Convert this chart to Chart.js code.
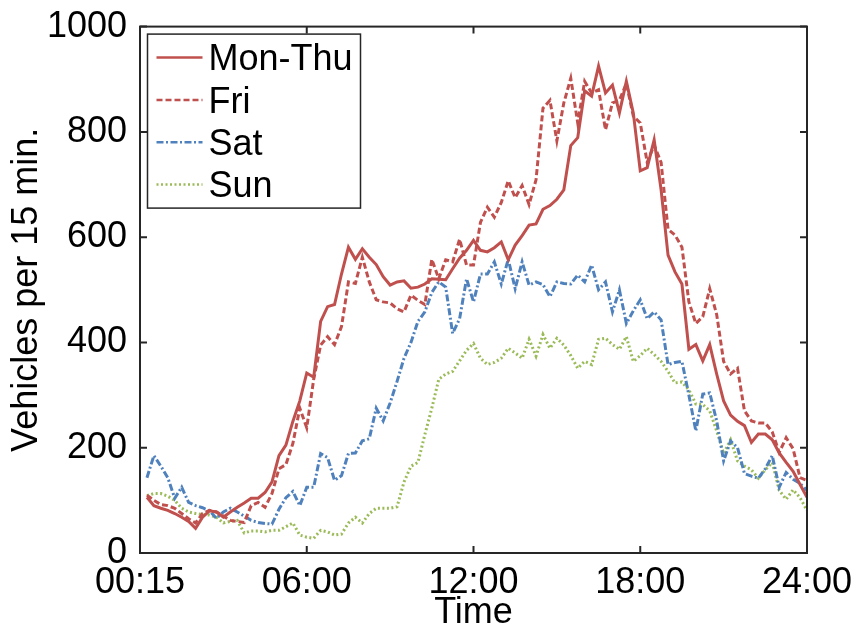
<!DOCTYPE html>
<html>
<head>
<meta charset="utf-8">
<script src="https://cdn.jsdelivr.net/npm/chart.js@4/dist/chart.umd.min.js"></script>
<style>
  html, body { margin: 0; padding: 0; background: #fff; }
  #c { display: block; }
</style>
</head>
<body>
<canvas id="c" width="856" height="632"></canvas>
<script>
// 15-minute slots: 1 = 00:15 ... 96 = 24:00
const slots = Array.from({ length: 96 }, (_, k) => k + 1);

const tickPositions = [0, 24, 48, 72, 96];
const tickLabels = ['00:15', '06:00', '12:00', '18:00', '24:00'];

const seriesNames = ['Mon-Thu', 'Fri', 'Sat', 'Sun'];

const monThu = [106,90,85,81,75,68,60,47,68,80,
  78,68,78,87,95,104,104,115,135,185,
  205,250,289,342,334,440,468,472,530,581,
  558,578,562,548,525,509,515,517,503,505,
  511,521,520,519,540,560,575,594,575,572,
  580,591,557,585,603,623,625,653,660,672,
  690,774,789,878,868,925,874,889,836,896,
  836,726,732,785,690,566,534,511,387,396,
  365,396,340,289,262,250,242,210,226,226,
  215,190,172,155,130,106];

const fri = [110,100,92,90,85,75,65,57,75,81,
  78,70,62,60,58,90,96,87,113,160,
  168,208,275,238,330,395,411,396,430,515,
  512,562,515,481,477,475,464,458,490,480,
  472,558,521,557,553,596,547,547,628,657,
  638,666,707,675,698,662,709,845,860,783,
  855,902,817,896,874,880,804,855,860,892,
  830,817,742,775,742,615,604,581,477,436,
  449,502,453,364,340,351,270,251,247,247,
  230,191,219,198,143,138];

const sat = [143,185,165,143,104,125,96,90,86,80,
  66,78,85,78,70,62,58,56,55,83,
  105,117,90,125,125,189,181,138,147,189,
  190,213,217,275,251,285,326,370,400,440,
  458,495,515,505,417,445,521,477,530,530,
  553,511,558,502,553,509,515,510,487,515,
  512,511,528,515,547,500,515,458,500,436,
  460,481,445,458,443,358,362,364,300,232,
  302,304,251,175,213,200,151,146,142,160,
  185,125,153,140,132,119];

const sun = [109,113,113,108,100,85,78,75,73,72,
  68,57,60,62,38,42,42,40,43,43,
  50,57,34,30,28,43,40,34,36,57,
  68,57,75,85,85,85,88,135,165,172,
  225,275,330,340,345,365,385,398,370,358,
  362,370,389,380,370,406,374,415,389,408,
  395,375,351,364,358,406,408,396,387,411,
  364,375,389,377,364,345,323,325,310,283,
  282,270,232,189,215,175,165,158,142,158,
  172,119,102,120,105,81];

const yTicks = [0, 200, 400, 600, 800, 1000];

const FONT = { family: "'Liberation Sans', Arial, Helvetica, sans-serif", size: 36 };
const AXIS_COLOR = '#262626';

const styles = [
  { color: '#c0504d', dash: [] },
  { color: '#c0504d', dash: [6, 3] },
  { color: '#4f81bd', dash: [7, 2.5, 2, 2.5] },
  { color: '#9bbb59', dash: [2, 2.5] }
];

const values = [monThu, fri, sat, sun];

const datasets = values.map((v, k) => ({
  label: seriesNames[k],
  data: v,
  borderColor: styles[k].color,
  backgroundColor: styles[k].color,
  borderDash: styles[k].dash,
  borderWidth: 3,
  pointRadius: 0,
  tension: 0,
  fill: false
}));

const framePlugin = {
  id: 'frame',
  afterDatasetsDraw(chart) {
    const { ctx, chartArea: a, scales: { x, y } } = chart;
    ctx.save();
    ctx.strokeStyle = AXIS_COLOR;
    ctx.lineWidth = 2;
    ctx.setLineDash([]);
    ctx.strokeRect(a.left, a.top, a.right - a.left, a.bottom - a.top);
    ctx.beginPath();
    const tl = 7;
    x.ticks.forEach(t => {
      const px = x.getPixelForValue(t.value);
      ctx.moveTo(px, a.bottom); ctx.lineTo(px, a.bottom - tl);
      ctx.moveTo(px, a.top); ctx.lineTo(px, a.top + tl);
    });
    y.ticks.forEach(t => {
      const py = y.getPixelForValue(t.value);
      ctx.moveTo(a.left, py); ctx.lineTo(a.left + tl, py);
      ctx.moveTo(a.right, py); ctx.lineTo(a.right - tl, py);
    });
    ctx.stroke();
    ctx.restore();
  },
  afterDraw(chart) {
    const { ctx, chartArea: a } = chart;
    const bx = a.left + 7.5, by = a.top + 7.5, bw = 213, bh = 174;
    ctx.save();
    ctx.fillStyle = '#fff';
    ctx.fillRect(bx, by, bw, bh);
    ctx.strokeStyle = AXIS_COLOR;
    ctx.lineWidth = 1.5;
    ctx.strokeRect(bx, by, bw, bh);
    ctx.font = `${FONT.size}px ${FONT.family}`;
    ctx.textBaseline = 'alphabetic';
    ctx.textAlign = 'left';
    chart.data.datasets.forEach((ds, k) => {
      const cy = by + 23.5 + k * 42.3;
      ctx.beginPath();
      ctx.strokeStyle = ds.borderColor;
      ctx.lineWidth = 2.5;
      ctx.setLineDash(ds.borderDash || []);
      ctx.moveTo(bx + 9, cy);
      ctx.lineTo(bx + 55, cy);
      ctx.stroke();
      ctx.setLineDash([]);
      ctx.fillStyle = '#000';
      ctx.fillText(ds.label, bx + 61, cy + 12.8);
    });
    ctx.restore();
  }
};

new Chart(document.getElementById('c'), {
  type: 'line',
  data: { labels: slots, datasets },
  options: {
    responsive: false,
    animation: false,
    devicePixelRatio: 1,
    layout: { padding: { top: 22, right: 49, bottom: 0, left: 0 } },
    plugins: { legend: { display: false }, tooltip: { enabled: false } },
    scales: {
      x: {
        type: 'linear',
        min: 0,
        max: 96,
        afterBuildTicks: s => { s.ticks = tickPositions.map(v => ({ value: v })); },
        afterFit: s => { s.height = 79; },
        ticks: {
          autoSkip: false,
          maxRotation: 0,
          color: '#000',
          font: FONT,
          padding: 0,
          callback: v => tickLabels[tickPositions.indexOf(v)]
        },
        grid: { display: false },
        border: { display: false },
        title: { display: true, text: 'Time', color: '#000', font: FONT, padding: { top: 0, bottom: -3 } }
      },
      y: {
        min: 0,
        max: 1000,
        afterBuildTicks: s => { s.ticks = yTicks.map(v => ({ value: v })); },
        afterFit: s => { s.width = 140; },
        ticks: { color: '#000', font: FONT, padding: 5, callback: v => String(v) },
        grid: { display: false },
        border: { display: false },
        title: { display: true, text: 'Vehicles per 15 min.', color: '#000', font: FONT, padding: { top: 5, bottom: 0 } }
      }
    }
  },
  plugins: [framePlugin]
});
</script>
</body>
</html>
